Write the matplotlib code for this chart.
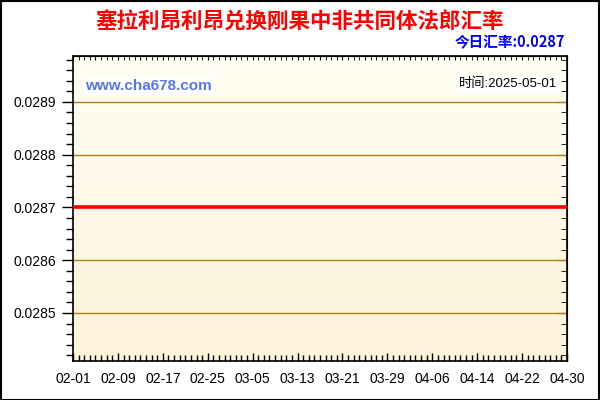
import numpy as np
import matplotlib
matplotlib.use('Agg')
import matplotlib.pyplot as plt
from matplotlib.ticker import MultipleLocator, FixedLocator
from matplotlib.colors import LinearSegmentedColormap

plt.rcParams['font.family'] = ['Liberation Sans', 'Noto Sans CJK SC', 'DejaVu Sans']

title = '塞拉利昂利昂兑换刚果中非共同体法郎汇率'
today_rate = '今日汇率:0.0287'
date_text = '时间:2025-05-01'
site = 'www.cha678.com'

# days counted from 02-01
label_days = [0, 8, 16, 24, 32, 40, 48, 56, 64, 72, 80, 88]
tick_labels = ['02-01', '02-09', '02-17', '02-25', '03-05', '03-13',
               '03-21', '03-29', '04-06', '04-14', '04-22', '04-30']
rates = [0.0287, 0.0287, 0.0287, 0.0287, 0.0287, 0.0287,
         0.0287, 0.0287, 0.0287, 0.0287, 0.0287, 0.0287]
y_ticks = [0.0285, 0.0286, 0.0287, 0.0288, 0.0289]

fig = plt.figure(figsize=(6, 4), dpi=100)
fig.patch.set_facecolor('white')
ax = fig.add_axes([73 / 600, 39 / 400, 494 / 600, 305 / 400])

# background gradient
cmap = LinearSegmentedColormap.from_list('bg', ['#FFFEF2', '#FDF2DA'])
grad = np.linspace(0, 1, 256).reshape(-1, 1)
ax.imshow(grad, aspect='auto', cmap=cmap, extent=[0, 1, 0, 1],
          transform=ax.transAxes, zorder=0)

for yt in y_ticks:
    ax.axhline(yt, color='#B07F10', lw=1, zorder=1)

ax.plot(label_days, rates, color='#FF0000', lw=2.6, zorder=3)

ax.set_xlim(0, 88)
ax.set_ylim(0.028409, 0.028987)

ax.xaxis.set_major_locator(FixedLocator(label_days))
ax.set_xticklabels(tick_labels, fontsize=10)
ax.xaxis.set_minor_locator(MultipleLocator(1))
ax.yaxis.set_major_locator(FixedLocator(y_ticks))
ax.set_yticklabels(['%.4f' % v for v in y_ticks], fontsize=10)
ax.yaxis.set_minor_locator(MultipleLocator(0.00002))

ax.tick_params(axis='x', which='major', direction='in', length=6, width=1, pad=8)
ax.tick_params(axis='x', which='minor', direction='in', length=4, width=1)
ax.tick_params(axis='y', which='major', direction='out', length=8, width=1, pad=4)
ax.tick_params(axis='y', which='minor', direction='out', length=5, width=1)

# top and right ticks point inward
sec_x = ax.secondary_xaxis('top')
sec_x.xaxis.set_major_locator(MultipleLocator(4))
sec_x.xaxis.set_minor_locator(MultipleLocator(1))
sec_x.tick_params(which='both', direction='in', length=3, labeltop=False)
sec_y = ax.secondary_yaxis('right')
sec_y.yaxis.set_major_locator(FixedLocator(y_ticks))
sec_y.yaxis.set_minor_locator(MultipleLocator(0.00002))
sec_y.tick_params(which='major', direction='in', length=7, labelright=False)
sec_y.tick_params(which='minor', direction='in', length=4)

for sp in ax.spines.values():
    sp.set_linewidth(1.2)
    sp.set_color('black')

ax.text(0.025, 0.902, site, transform=ax.transAxes, fontsize=11, fontweight='bold',
        color='#5577EE', va='center', ha='left', zorder=4,
        bbox=dict(facecolor='white', edgecolor='none', pad=1.5))
ax.text(0.98, 0.91, date_text, transform=ax.transAxes, fontsize=9.5,
        color='black', va='center', ha='right', zorder=4,
        bbox=dict(facecolor='white', edgecolor='none', pad=1.5))

fig.text(300 / 600, 1 - 22 / 400, title, fontsize=15.5, fontweight='bold',
         color='#FF0000', ha='center', va='center',
         family=['Noto Sans CJK SC', 'DejaVu Sans'])
fig.text(565 / 600, 1 - 42 / 400, today_rate, fontsize=10.5, fontweight='bold',
         color='#0000FF', ha='right', va='center',
         family=['Noto Sans CJK SC', 'DejaVu Sans'])

# outer frame
fig.add_artist(plt.Rectangle((0.001, 0.001), 0.997, 0.997, transform=fig.transFigure,
                             fill=False, edgecolor='black', lw=1.5))

fig.savefig('out.png', dpi=100)
